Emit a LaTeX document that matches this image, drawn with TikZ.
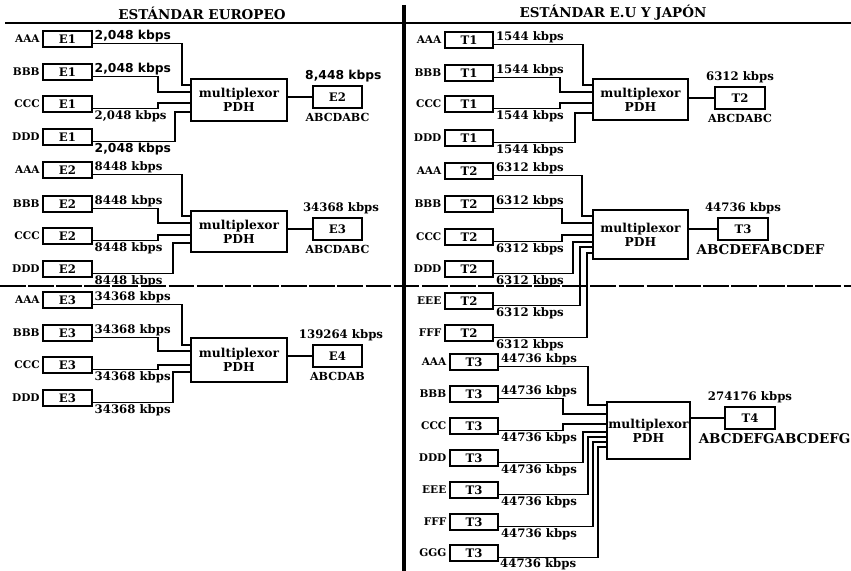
\documentclass[tikz,border=0pt]{standalone}
\usepackage{fontspec}
\setmainfont{DejaVu Serif}
\newfontfamily\heavyfont{DejaVu Sans}
\usetikzlibrary{positioning}

\begin{document}
\begin{tikzpicture}[
    x=0.03cm, y=-0.03cm,
    inbox/.style={
      rectangle,
      draw,
      line width=1.9pt,
      minimum width=1.45cm,
      minimum height=0.48cm,
      inner sep=0pt,
      font=\bfseries\fontsize{10}{11}\selectfont
    },
    outbox/.style={inbox, minimum width=1.48cm, minimum height=0.66cm},
    mux/.style={rectangle, draw, line width=1.1pt, align=center, inner sep=0pt,
      font=\bfseries\fontsize{10.5}{12}\selectfont},
    src/.style={font=\bfseries\fontsize{9}{10}\selectfont, inner sep=1pt},
    rate/.style={font=\bfseries\fontsize{10}{11}\selectfont, inner sep=1pt},
    heavy/.style={font=\heavyfont\bfseries\fontsize{10.5}{11}\selectfont, inner sep=1pt},
    tagline/.style={font=\bfseries\fontsize{9.5}{10}\selectfont, inner sep=1pt},
    bigtag/.style={font=\bfseries\fontsize{11.5}{12}\selectfont, inner sep=1pt},
    title/.style={font=\bfseries\fontsize{11.5}{12}\selectfont},
    wire/.style={line width=1.3pt},
    sepline/.style={line width=2.4pt}
]
\useasboundingbox (0,0) rectangle (851,571);

% headings and separators
\node[title] (hdeu) at (202,13) {ESTÁNDAR EUROPEO};
\node[title] (hdus) at (613,13) {ESTÁNDAR E.U Y JAPÓN};
\draw[sepline] (5,23) -- (851,23);
\draw[line width=3.5pt] (404,5) -- (404,571);
\draw[line width=1.1pt, dash pattern=on 22pt off 2pt] (0,286) -- (851,286);

% European hierarchy, E1 -> E2
\node[inbox] (e1aaa) at (67.5,39) {E1};
\node[inbox] (e1bbb) at (67.5,72) {E1};
\node[inbox] (e1ccc) at (67.5,104) {E1};
\node[inbox] (e1ddd) at (67.5,137) {E1};
\node[src, left=1pt of e1aaa] (le1aaa) {AAA};
\node[src, left=1pt of e1bbb] (le1bbb) {BBB};
\node[src, left=1pt of e1ccc] (le1ccc) {CCC};
\node[src, left=1pt of e1ddd] (le1ddd) {DDD};
\node[mux, minimum width=2.88cm, minimum height=1.26cm] (muxe1) at (239,100) {multiplexor\\PDH};
\node[outbox] (oute1) at (337.5,97) {E2};
\node[heavy, above=1pt of oute1, xshift=5pt] (rte1) {8,448 kbps};
\node[tagline, below=2pt of oute1] (tge1) {ABCDABC};

\draw[wire] ([yshift=-4pt]e1aaa.east) node[heavy, above right] (re1aaa) {2,048 kbps} -| (182,85) -- (muxe1.west |- 0,85);
\draw[wire] ([yshift=-4pt]e1bbb.east) node[heavy, above right] (re1bbb) {2,048 kbps} -| (158,92) -- (muxe1.west |- 0,92);
\draw[wire] ([yshift=-4pt]e1ccc.east) node[rate, below right] (re1ccc) {2,048 kbps} -| (158,103) -- (muxe1.west |- 0,103);
\draw[wire] ([yshift=-4pt]e1ddd.east) node[heavy, below right] (re1ddd) {2,048 kbps} -| (175,112) -- (muxe1.west |- 0,112);
\draw[wire] (muxe1.east |- oute1.west) -- (oute1.west);

% European hierarchy, E2 -> E3
\node[inbox] (e2aaa) at (67.5,170) {E2};
\node[inbox] (e2bbb) at (67.5,204) {E2};
\node[inbox] (e2ccc) at (67.5,236) {E2};
\node[inbox] (e2ddd) at (67.5,269) {E2};
\node[src, left=1pt of e2aaa] (le2aaa) {AAA};
\node[src, left=1pt of e2bbb] (le2bbb) {BBB};
\node[src, left=1pt of e2ccc] (le2ccc) {CCC};
\node[src, left=1pt of e2ddd] (le2ddd) {DDD};
\node[mux, minimum width=2.88cm, minimum height=1.23cm] (muxe2) at (239,231.5) {multiplexor\\PDH};
\node[outbox] (oute2) at (337.5,229) {E3};
\node[rate, above=1pt of oute2, xshift=3pt] (rte2) {34368 kbps};
\node[tagline, below=2pt of oute2] (tge2) {ABCDABC};

\draw[wire] ([yshift=-4pt]e2aaa.east) node[rate, above right] (re2aaa) {8448 kbps} -| (182,216) -- (muxe2.west |- 0,216);
\draw[wire] ([yshift=-4pt]e2bbb.east) node[rate, above right] (re2bbb) {8448 kbps} -| (158,223) -- (muxe2.west |- 0,223);
\draw[wire] ([yshift=-4pt]e2ccc.east) node[rate, below right] (re2ccc) {8448 kbps} -| (158,235) -- (muxe2.west |- 0,235);
\draw[wire] ([yshift=-4pt]e2ddd.east) node[rate, below right] (re2ddd) {8448 kbps} -| (173,243) -- (muxe2.west |- 0,243);
\draw[wire] (muxe2.east |- oute2.west) -- (oute2.west);

% European hierarchy, E3 -> E4
\node[inbox] (e3aaa) at (67.5,300) {E3};
\node[inbox] (e3bbb) at (67.5,333) {E3};
\node[inbox] (e3ccc) at (67.5,365) {E3};
\node[inbox] (e3ddd) at (67.5,398) {E3};
\node[src, left=1pt of e3aaa] (le3aaa) {AAA};
\node[src, left=1pt of e3bbb] (le3bbb) {BBB};
\node[src, left=1pt of e3ccc] (le3ccc) {CCC};
\node[src, left=1pt of e3ddd] (le3ddd) {DDD};
\node[mux, minimum width=2.88cm, minimum height=1.32cm] (muxe3) at (239,360) {multiplexor\\PDH};
\node[outbox] (oute3) at (337.5,356) {E4};
\node[rate, above=1pt of oute3, xshift=3pt] (rte3) {139264 kbps};
\node[tagline, below=2pt of oute3] (tge3) {ABCDAB};

\draw[wire] ([yshift=-4pt]e3aaa.east) node[rate, above right] (re3aaa) {34368 kbps} -| (182,345) -- (muxe3.west |- 0,345);
\draw[wire] ([yshift=-4pt]e3bbb.east) node[rate, above right] (re3bbb) {34368 kbps} -| (158,351) -- (muxe3.west |- 0,351);
\draw[wire] ([yshift=-4pt]e3ccc.east) node[rate, below right] (re3ccc) {34368 kbps} -| (158,365) -- (muxe3.west |- 0,365);
\draw[wire] ([yshift=-4pt]e3ddd.east) node[rate, below right] (re3ddd) {34368 kbps} -| (173,372) -- (muxe3.west |- 0,372);
\draw[wire] (muxe3.east |- oute3.west) -- (oute3.west);

% US / Japan hierarchy, T1 -> T2
\node[inbox, minimum width=1.44cm] (t1aaa) at (469,40) {T1};
\node[inbox, minimum width=1.44cm] (t1bbb) at (469,73) {T1};
\node[inbox, minimum width=1.44cm] (t1ccc) at (469,104) {T1};
\node[inbox, minimum width=1.44cm] (t1ddd) at (469,138) {T1};
\node[src, left=1pt of t1aaa] (lt1aaa) {AAA};
\node[src, left=1pt of t1bbb] (lt1bbb) {BBB};
\node[src, left=1pt of t1ccc] (lt1ccc) {CCC};
\node[src, left=1pt of t1ddd] (lt1ddd) {DDD};
\node[mux, minimum width=2.85cm, minimum height=1.23cm] (muxt1) at (640.5,99.5) {multiplexor\\PDH};
\node[outbox, minimum width=1.5cm] (outt1) at (740,98) {T2};
\node[rate, above=1pt of outt1] (rtt1) {6312 kbps};
\node[tagline, below=2pt of outt1] (tgt1) {ABCDABC};

\draw[wire] ([yshift=-4pt]t1aaa.east) node[rate, above right] (rt1aaa) {1544 kbps} -| (583,85) -- (muxt1.west |- 0,85);
\draw[wire] ([yshift=-4pt]t1bbb.east) node[rate, above right] (rt1bbb) {1544 kbps} -| (560,92) -- (muxt1.west |- 0,92);
\draw[wire] ([yshift=-4pt]t1ccc.east) node[rate, below right] (rt1ccc) {1544 kbps} -| (560,103) -- (muxt1.west |- 0,103);
\draw[wire] ([yshift=-4pt]t1ddd.east) node[rate, below right] (rt1ddd) {1544 kbps} -| (575,113) -- (muxt1.west |- 0,113);
\draw[wire] (muxt1.east |- outt1.west) -- (outt1.west);

% US / Japan hierarchy, T2 -> T3
\node[inbox, minimum width=1.44cm] (t2aaa) at (469,171) {T2};
\node[inbox, minimum width=1.44cm] (t2bbb) at (469,204) {T2};
\node[inbox, minimum width=1.44cm] (t2ccc) at (469,237) {T2};
\node[inbox, minimum width=1.44cm] (t2ddd) at (469,269) {T2};
\node[inbox, minimum width=1.44cm] (t2eee) at (469,301) {T2};
\node[inbox, minimum width=1.44cm] (t2fff) at (469,333) {T2};
\node[src, left=1pt of t2aaa] (lt2aaa) {AAA};
\node[src, left=1pt of t2bbb] (lt2bbb) {BBB};
\node[src, left=1pt of t2ccc] (lt2ccc) {CCC};
\node[src, left=1pt of t2ddd] (lt2ddd) {DDD};
\node[src, left=1pt of t2eee] (lt2eee) {EEE};
\node[src, left=1pt of t2fff] (lt2fff) {FFF};
\node[mux, minimum width=2.85cm, minimum height=1.47cm] (muxt2) at (640.5,234.5) {multiplexor\\PDH};
\node[outbox, minimum width=1.5cm] (outt2) at (743,229) {T3};
\node[rate, above=1pt of outt2] (rtt2) {44736 kbps};
\node[bigtag, below=2pt of outt2, xshift=15pt] (tgt2) {ABCDEFABCDEF};

\draw[wire] ([yshift=-4pt]t2aaa.east) node[rate, above right] (rt2aaa) {6312 kbps} -| (582,216) -- (muxt2.west |- 0,216);
\draw[wire] ([yshift=-4pt]t2bbb.east) node[rate, above right] (rt2bbb) {6312 kbps} -| (562,223) -- (muxt2.west |- 0,223);
\draw[wire] ([yshift=-4pt]t2ccc.east) node[rate, below right] (rt2ccc) {6312 kbps} -| (562,235) -- (muxt2.west |- 0,235);
\draw[wire] ([yshift=-4pt]t2ddd.east) node[rate, below right] (rt2ddd) {6312 kbps} -| (573,242) -- (muxt2.west |- 0,242);
\draw[wire] ([yshift=-4pt]t2eee.east) node[rate, below right] (rt2eee) {6312 kbps} -| (580,247) -- (muxt2.west |- 0,247);
\draw[wire] ([yshift=-4pt]t2fff.east) node[rate, below right] (rt2fff) {6312 kbps} -| (587,253) -- (muxt2.west |- 0,253);
\draw[wire] (muxt2.east |- outt2.west) -- (outt2.west);

% US / Japan hierarchy, T3 -> T4
\node[inbox, minimum width=1.44cm] (t3aaa) at (474,362) {T3};
\node[inbox, minimum width=1.44cm] (t3bbb) at (474,394) {T3};
\node[inbox, minimum width=1.44cm] (t3ccc) at (474,426) {T3};
\node[inbox, minimum width=1.44cm] (t3ddd) at (474,458) {T3};
\node[inbox, minimum width=1.44cm] (t3eee) at (474,490) {T3};
\node[inbox, minimum width=1.44cm] (t3fff) at (474,522) {T3};
\node[inbox, minimum width=1.44cm] (t3ggg) at (474,553) {T3};
\node[src, left=1pt of t3aaa] (lt3aaa) {AAA};
\node[src, left=1pt of t3bbb] (lt3bbb) {BBB};
\node[src, left=1pt of t3ccc] (lt3ccc) {CCC};
\node[src, left=1pt of t3ddd] (lt3ddd) {DDD};
\node[src, left=1pt of t3eee] (lt3eee) {EEE};
\node[src, left=1pt of t3fff] (lt3fff) {FFF};
\node[src, left=1pt of t3ggg] (lt3ggg) {GGG};
\node[mux, minimum width=2.49cm, minimum height=1.71cm] (muxt3) at (648.5,430.5) {multiplexor\\PDH};
\node[outbox, minimum width=1.5cm] (outt3) at (750,418) {T4};
\node[rate, above=1pt of outt3] (rtt3) {274176 kbps};
\node[bigtag, below=2pt of outt3, xshift=21pt] (tgt3) {ABCDEFGABCDEFG};

\draw[wire] ([yshift=-4pt]t3aaa.east) node[rate, above right] (rt3aaa) {44736 kbps} -| (588,405) -- (muxt3.west |- 0,405);
\draw[wire] ([yshift=-4pt]t3bbb.east) node[rate, above right] (rt3bbb) {44736 kbps} -| (563,414) -- (muxt3.west |- 0,414);
\draw[wire] ([yshift=-4pt]t3ccc.east) node[rate, below right] (rt3ccc) {44736 kbps} -| (563,424) -- (muxt3.west |- 0,424);
\draw[wire] ([yshift=-4pt]t3ddd.east) node[rate, below right] (rt3ddd) {44736 kbps} -| (583,432) -- (muxt3.west |- 0,432);
\draw[wire] ([yshift=-4pt]t3eee.east) node[rate, below right] (rt3eee) {44736 kbps} -| (588,437) -- (muxt3.west |- 0,437);
\draw[wire] ([yshift=-4pt]t3fff.east) node[rate, below right] (rt3fff) {44736 kbps} -| (593,442) -- (muxt3.west |- 0,442);
\draw[wire] ([yshift=-4pt]t3ggg.east) node[rate, below right, inner sep=0.3pt] (rt3ggg) {44736 kbps} -| (598,447) -- (muxt3.west |- 0,447);
\draw[wire] (muxt3.east |- outt3.west) -- (outt3.west);
\end{tikzpicture}
\end{document}
